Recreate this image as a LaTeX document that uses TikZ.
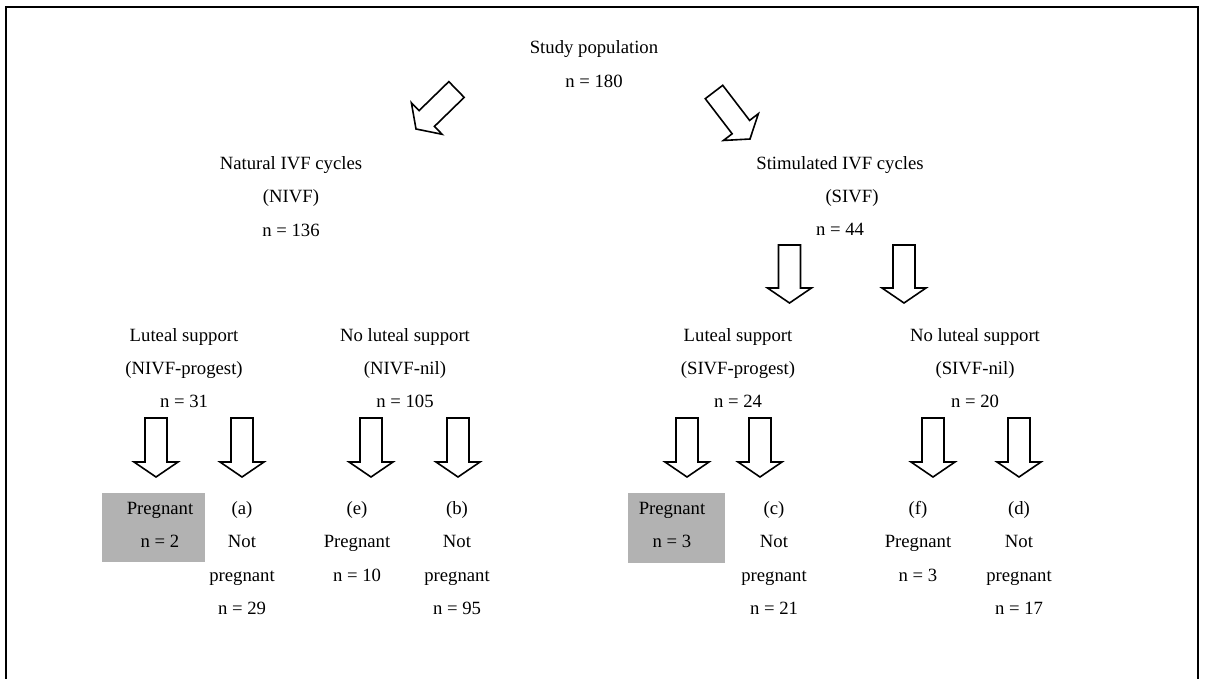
\documentclass[tikz,border=0pt]{standalone}
\usepackage{fontspec}
\setmainfont{Liberation Serif}
\usetikzlibrary{calc}
\definecolor{shade}{RGB}{178,178,178}
\tikzset{
  txt/.style={align=center, inner sep=0pt, font=\fontsize{9.35pt}{16.65pt}\selectfont},
  blockarr/.style={draw=black, line width=0.8pt, fill=white, line join=miter},
  shadebox/.style={fill=shade, draw=none},
  frame/.style={draw=black, line width=1pt}
}
\newcommand\blockarrow[2]{%
  \coordinate (hb) at ($(#2)!7.5pt!(#1)$);
  \draw[blockarr] ($(#1)!5.5pt!90:(#2)$) -- ($(hb)!5.5pt!90:(#2)$) -- ($(hb)!11pt!90:(#2)$) -- (#2)
    -- ($(hb)!11pt!-90:(#2)$) -- ($(hb)!5.5pt!-90:(#2)$) -- ($(#1)!5.5pt!-90:(#2)$) -- cycle;}
\begin{document}
\begin{tikzpicture}[x=0.5pt,y=-0.5pt]
\useasboundingbox (0,0) rectangle (1205,679);
% frame
\draw[frame] (6,679) -- (6,7) -- (1198,7) -- (1198,679);
% shaded boxes
\fill[shadebox] (102,493) rectangle (205,562);
\fill[shadebox] (628,493) rectangle (725,563);
% texts
\node[txt] (study) at (594,64) {Study population\\n = 180};
\node[txt] (nat) at (291,196.5) {Natural IVF cycles\\(NIVF)\\n = 136};
\node[txt] (stim) at (840,196) {Stimulated IVF cycles\\\hspace*{12pt}(SIVF)\\n = 44};
\node[txt] (lsL) at (184,368) {Luteal support\\(NIVF-progest)\\n = 31};
\node[txt] (nlsL) at (405,368) {No luteal support\\(NIVF-nil)\\n = 105};
\node[txt] (lsR) at (738,368) {Luteal support\\(SIVF-progest)\\n = 24};
\node[txt] (nlsR) at (975,368) {No luteal support\\(SIVF-nil)\\n = 20};
\node[txt] (pL) at (160,525) {Pregnant\\n = 2};
\node[txt] (a) at (242,558) {(a)\\Not\\pregnant\\n = 29};
\node[txt] (e) at (357,541.5) {(e)\\Pregnant\\n = 10};
\node[txt] (b) at (457,558) {(b)\\Not\\pregnant\\n = 95};
\node[txt] (pR) at (672,525) {Pregnant\\n = 3};
\node[txt] (c) at (774,558) {(c)\\Not\\pregnant\\n = 21};
\node[txt] (f) at (918,541.5) {(f)\\Pregnant\\n = 3};
\node[txt] (d) at (1019,558) {(d)\\Not\\pregnant\\n = 17};
% arrow end points
\coordinate (s1) at (456.5,89.5); \coordinate (t1) at (416,129);
\coordinate (s2) at (714,92);     \coordinate (t2) at (750,139);
\coordinate (s3) at (789.5,245);  \coordinate (t3) at (789.5,303);
\coordinate (s4) at (904,245);    \coordinate (t4) at (904,303);
\foreach \n/\x in {5/156,6/242,7/371,8/458,9/687,10/760,11/933,12/1019}{
  \coordinate (s\n) at (\x,418); \coordinate (t\n) at (\x,477);}
\foreach \n in {1,...,12}{\blockarrow{s\n}{t\n}}
\end{tikzpicture}
\end{document}
